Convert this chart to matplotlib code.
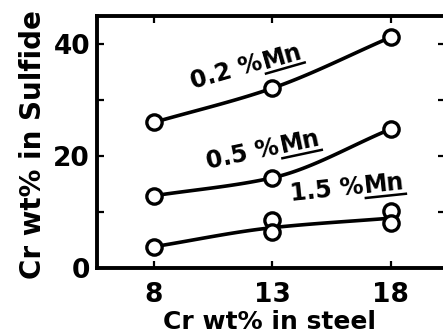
import numpy as np
import matplotlib
matplotlib.use("Agg")
import matplotlib.pyplot as plt

# Cr in steel (wt%)
cr_steel = [8, 13, 18]
# Cr in sulfide (wt%)
mn02 = [26.0, 32.1, 41.2]
mn05 = [12.9, 16.1, 24.8]
mn15_pts_x = [8, 13, 13, 18, 18]
mn15_pts_y = [3.8, 8.6, 6.5, 10.1, 8.0]
mn15_line = [3.8, 7.2, 8.9]

labels = ["0.2 %", "0.5 %", "1.5 %"]
label_xy = [(9.65, 31.9), (10.3, 17.7), (13.8, 12.0)]
label_rot = [16, 12, 6]

plt.rcParams["font.family"] = "DejaVu Sans"
plt.rcParams["font.weight"] = "bold"
plt.rcParams["axes.labelweight"] = "bold"

fig = plt.figure(figsize=(4.43, 3.36), dpi=100)
ax = fig.add_axes([97 / 443, 68 / 336, 348 / 443, 252 / 336])

def curve(xs, ys):
    # cubic Hermite through the points (harmonic-mean inner slopes)
    xs = np.asarray(xs, float)
    ys = np.asarray(ys, float)
    sec = np.diff(ys) / np.diff(xs)
    inner = 2 / (1 / sec[:-1] + 1 / sec[1:])
    m = np.r_[sec[0], inner, sec[-1]]
    for i in range(len(xs) - 1):
        h = xs[i + 1] - xs[i]
        t = np.linspace(0, 1, 40)
        yy = ((2 * t**3 - 3 * t**2 + 1) * ys[i] + (t**3 - 2 * t**2 + t) * h * m[i]
              + (-2 * t**3 + 3 * t**2) * ys[i + 1] + (t**3 - t**2) * h * m[i + 1])
        ax.plot(xs[i] + t * h, yy, color="black", lw=2.6, zorder=2,
                solid_capstyle="round")

for ys in (mn02, mn05, mn15_line):
    curve(cr_steel, ys)

mk = dict(marker="o", ls="none", ms=11, mfc="white", mec="black", mew=2.4, zorder=3)
ax.plot(cr_steel, mn02, **mk)
ax.plot(cr_steel, mn05, **mk)
ax.plot(mn15_pts_x, mn15_pts_y, **mk)

ax.set_xlim(5.6, 20.3)
ax.set_ylim(0, 45)
ax.set_xticks(cr_steel)
ax.set_yticks([0, 20, 40])
ax.set_yticks([10, 30], minor=True)
ax.tick_params(axis="both", which="both", direction="in", top=True, right=True,
               length=5, width=1.6, labelsize=19)
ax.tick_params(axis="x", pad=10)
ax.tick_params(axis="y", pad=5)
for s in ax.spines.values():
    s.set_linewidth(2.8)

ax.set_xlabel("Cr wt% in steel", fontsize=18)
ax.xaxis.set_label_coords(0.497, -0.168)
ax.set_ylabel("Cr wt% in Sulfide", fontsize=20)
ax.yaxis.set_label_coords(-0.144, 0.488)

# curve labels with underlined "Mn"
rend = fig.canvas.get_renderer()
for txt, (lx, ly), ang in zip(labels, label_xy, label_rot):
    t = ax.text(lx, ly, txt, rotation=ang, rotation_mode="anchor",
                ha="left", va="baseline", fontsize=17)
    w, h, d = rend.get_text_width_height_descent(txt, t.get_fontproperties(), ismath=False)
    a = np.radians(ang)
    u = np.array([np.cos(a), np.sin(a)])
    n = np.array([np.sin(a), -np.cos(a)])
    p0 = ax.transData.transform((lx, ly))
    p1 = p0 + u * (w + 1)
    q = ax.transData.inverted().transform(p1)
    t2 = ax.text(q[0], q[1], "Mn", rotation=ang, rotation_mode="anchor",
                 ha="left", va="baseline", fontsize=17)
    w2, _, _ = rend.get_text_width_height_descent("Mn", t2.get_fontproperties(), ismath=False)
    s0 = p1 + n * 5
    s1 = s0 + u * w2
    seg = ax.transData.inverted().transform([s0, s1])
    ax.plot(seg[:, 0], seg[:, 1], color="black", lw=1.8, clip_on=False)

fig.savefig("out.png", dpi=100)
